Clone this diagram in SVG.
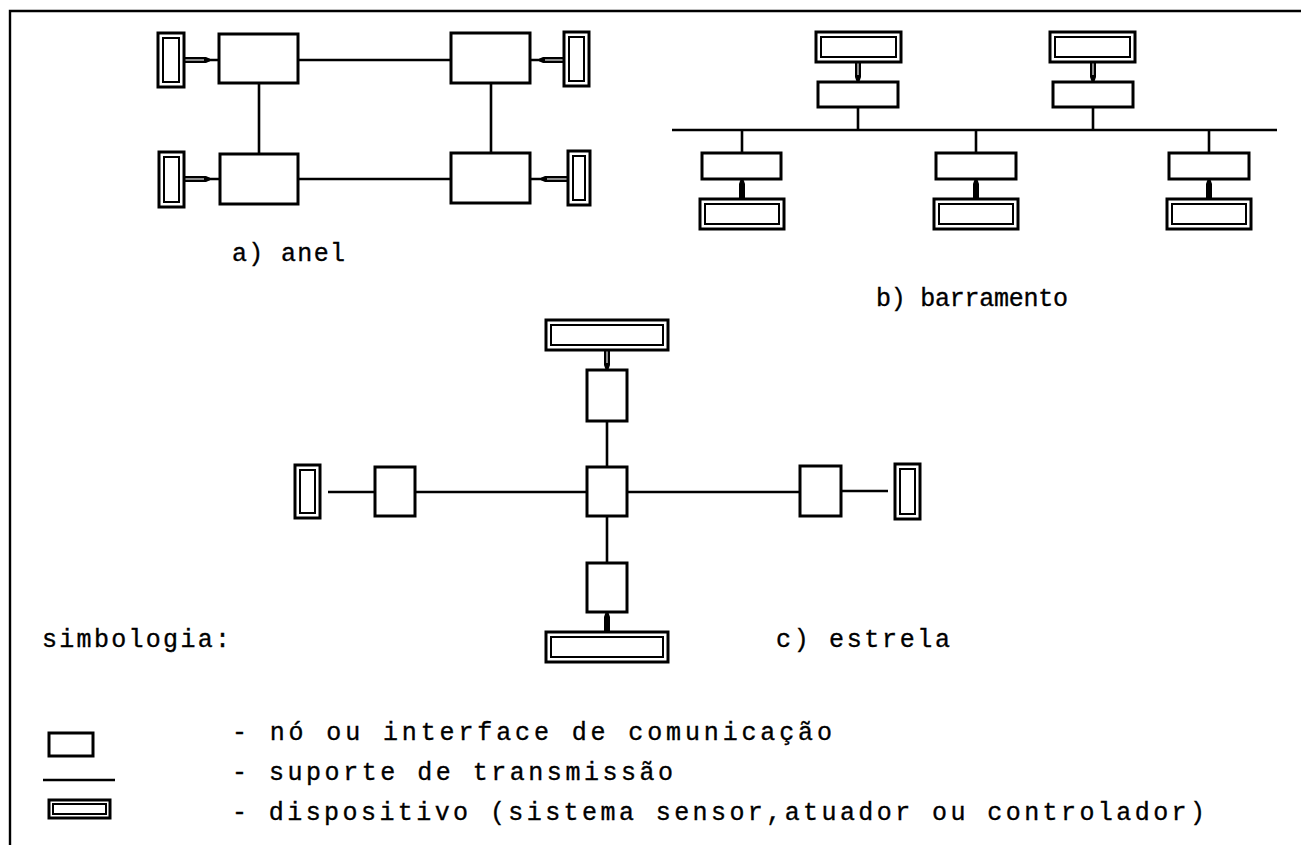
<svg xmlns="http://www.w3.org/2000/svg" width="1301" height="845" viewBox="0 0 1301 845">
  <style>
    .node { fill: #fff; stroke: #000; stroke-width: 3; }
    .dev-o { fill: #fff; stroke: #000; stroke-width: 3; }
    .dev-i { fill: none; stroke: #000; stroke-width: 2; }
    .wire { fill: none; stroke: #000; stroke-width: 2.6; }
    .stub { fill: #000; stroke: none; }
    .core { fill: none; stroke: #fff; stroke-width: 1.1; }
    .frame { fill: none; stroke: #000; stroke-width: 2.4; }
    .lbl { font-family: "Liberation Mono", "Courier New", monospace; font-size: 25px; fill: #000; stroke: #000; stroke-width: 0.35; }
  </style>

  <!-- page frame (top and left rule) -->
  <path class="frame" d="M10,845 V11 H1301"/>

  <!-- connectors -->
  <g id="connectors">
    <!-- a) ring -->
    <path class="wire" d="M298,60 H451 M298,179 H451 M259,83 V154 M491,83 V153"/>
    <path class="wire" d="M208,60 H219 M208,179 H220 M530,60 H541 M530,179 H543"/>
    <path class="stub" d="M184,57 H206 L210,58.7 V61.3 L206,63 H184 Z"/>
    <path class="core" d="M185,60 H204"/>
    <path class="stub" d="M184,176 H206 L210,177.7 V180.3 L206,182 H184 Z"/>
    <path class="core" d="M185,179 H204"/>
    <path class="stub" d="M564,57 H543 L539,58.7 V61.3 L543,63 H564 Z"/>
    <path class="core" d="M563,60 H545"/>
    <path class="stub" d="M568,176 H545 L541,177.7 V180.3 L545,182 H568 Z"/>
    <path class="core" d="M567,179 H547"/>

    <!-- b) bus -->
    <path class="wire" d="M672,130 H1277"/>
    <path class="wire" d="M858,107 V130 M1093,107 V130 M742,130 V153 M976,130 V153 M1209,130 V153"/>
    <path class="stub" d="M855,62 H861 V77 L859.3,82 H856.7 L855,77 Z"/>
    <path class="core" d="M858,63 V75"/>
    <path class="stub" d="M1090,62 H1096 V77 L1094.3,82 H1091.7 L1090,77 Z"/>
    <path class="core" d="M1093,63 V75"/>
    <path class="stub" d="M739,199 H745 V184 L743.3,179 H740.7 L739,184 Z"/>
    <path class="stub" d="M973,199 H979 V184 L977.3,179 H974.7 L973,184 Z"/>
    <path class="stub" d="M1206,199 H1212 V184 L1210.3,179 H1207.7 L1206,184 Z"/>

    <!-- c) star -->
    <path class="wire" d="M328,492 H375 M415,492 H587 M627,492 H800 M841,491 H888 M607,421 V467 M607,516 V563"/>
    <path class="stub" d="M604,350 H610 V365 L608.3,370 H605.7 L604,365 Z"/>
    <path class="core" d="M607,351 V363"/>
    <path class="stub" d="M604,632 H610 V617 L608.3,612 H605.7 L604,617 Z"/>
  </g>

  <!-- a) ring topology -->
  <g id="ring-node-tl"><rect class="node" x="219" y="34" width="79" height="49"/></g>
  <g id="ring-node-tr"><rect class="node" x="451" y="33" width="79" height="50"/></g>
  <g id="ring-node-bl"><rect class="node" x="220" y="154" width="78" height="50"/></g>
  <g id="ring-node-br"><rect class="node" x="451" y="153" width="79" height="50"/></g>
  <g id="ring-dev-tl"><rect class="dev-o" x="158" y="33" width="26" height="54"/><rect class="dev-i" x="163" y="38" width="16" height="44"/></g>
  <g id="ring-dev-tr"><rect class="dev-o" x="564" y="32" width="25" height="54"/><rect class="dev-i" x="569" y="37" width="15" height="44"/></g>
  <g id="ring-dev-bl"><rect class="dev-o" x="159" y="152" width="25" height="55"/><rect class="dev-i" x="164" y="157" width="15" height="45"/></g>
  <g id="ring-dev-br"><rect class="dev-o" x="568" y="151" width="22" height="54"/><rect class="dev-i" x="573" y="156" width="12" height="44"/></g>
  <g id="label-a"><text class="lbl" x="232" y="261" textLength="113" lengthAdjust="spacing">a) anel</text></g>

  <!-- b) bus topology -->
  <g id="bus-dev-1"><rect class="dev-o" x="816" y="32" width="85" height="30"/><rect class="dev-i" x="821" y="37" width="75" height="20"/></g>
  <g id="bus-node-1"><rect class="node" x="818" y="82" width="80" height="25"/></g>
  <g id="bus-dev-2"><rect class="dev-o" x="1050" y="32" width="85" height="30"/><rect class="dev-i" x="1055" y="37" width="75" height="20"/></g>
  <g id="bus-node-2"><rect class="node" x="1053" y="82" width="80" height="25"/></g>
  <g id="bus-node-3"><rect class="node" x="702" y="153" width="79" height="26"/></g>
  <g id="bus-dev-3"><rect class="dev-o" x="700" y="199" width="84" height="30"/><rect class="dev-i" x="705" y="204" width="74" height="20"/></g>
  <g id="bus-node-4"><rect class="node" x="936" y="153" width="80" height="26"/></g>
  <g id="bus-dev-4"><rect class="dev-o" x="934" y="199" width="84" height="30"/><rect class="dev-i" x="939" y="204" width="74" height="20"/></g>
  <g id="bus-node-5"><rect class="node" x="1169" y="153" width="80" height="26"/></g>
  <g id="bus-dev-5"><rect class="dev-o" x="1167" y="199" width="84" height="30"/><rect class="dev-i" x="1172" y="204" width="74" height="20"/></g>
  <g id="label-b"><text class="lbl" x="876" y="306" textLength="192" lengthAdjust="spacing">b) barramento</text></g>

  <!-- c) star topology -->
  <g id="star-dev-top"><rect class="dev-o" x="546" y="320" width="122" height="30"/><rect class="dev-i" x="551" y="325" width="112" height="20"/></g>
  <g id="star-node-top"><rect class="node" x="587" y="370" width="40" height="51"/></g>
  <g id="star-node-center"><rect class="node" x="587" y="467" width="40" height="49"/></g>
  <g id="star-node-bottom"><rect class="node" x="587" y="563" width="40" height="49"/></g>
  <g id="star-dev-bottom"><rect class="dev-o" x="546" y="632" width="122" height="30"/><rect class="dev-i" x="551" y="637" width="112" height="20"/></g>
  <g id="star-node-left"><rect class="node" x="375" y="467" width="40" height="49"/></g>
  <g id="star-dev-left"><rect class="dev-o" x="295" y="465" width="25" height="53"/><rect class="dev-i" x="300" y="470" width="15" height="43"/></g>
  <g id="star-node-right"><rect class="node" x="800" y="466" width="41" height="50"/></g>
  <g id="star-dev-right"><rect class="dev-o" x="895" y="464" width="25" height="55"/><rect class="dev-i" x="900" y="469" width="15" height="45"/></g>
  <g id="label-c"><text class="lbl" x="776" y="647" textLength="174" lengthAdjust="spacing">c) estrela</text></g>

  <!-- legend -->
  <g id="legend-title"><text class="lbl" x="42" y="647" textLength="188" lengthAdjust="spacing">simbologia:</text></g>
  <g id="legend-node">
    <rect class="node" x="49" y="733" width="44" height="23"/>
    <text class="lbl" x="232" y="740" textLength="600" lengthAdjust="spacing">- nó ou interface de comunicação</text>
  </g>
  <g id="legend-line">
    <path class="wire" d="M43,780 H115"/>
    <text class="lbl" x="232" y="780" textLength="441" lengthAdjust="spacing">- suporte de transmissão</text>
  </g>
  <g id="legend-device">
    <rect class="dev-o" x="49" y="800" width="61" height="18"/><rect class="dev-i" x="53" y="804" width="53" height="10"/>
    <text class="lbl" x="232" y="820" textLength="973" lengthAdjust="spacing">- dispositivo (sistema sensor,atuador ou controlador)</text>
  </g>
</svg>
